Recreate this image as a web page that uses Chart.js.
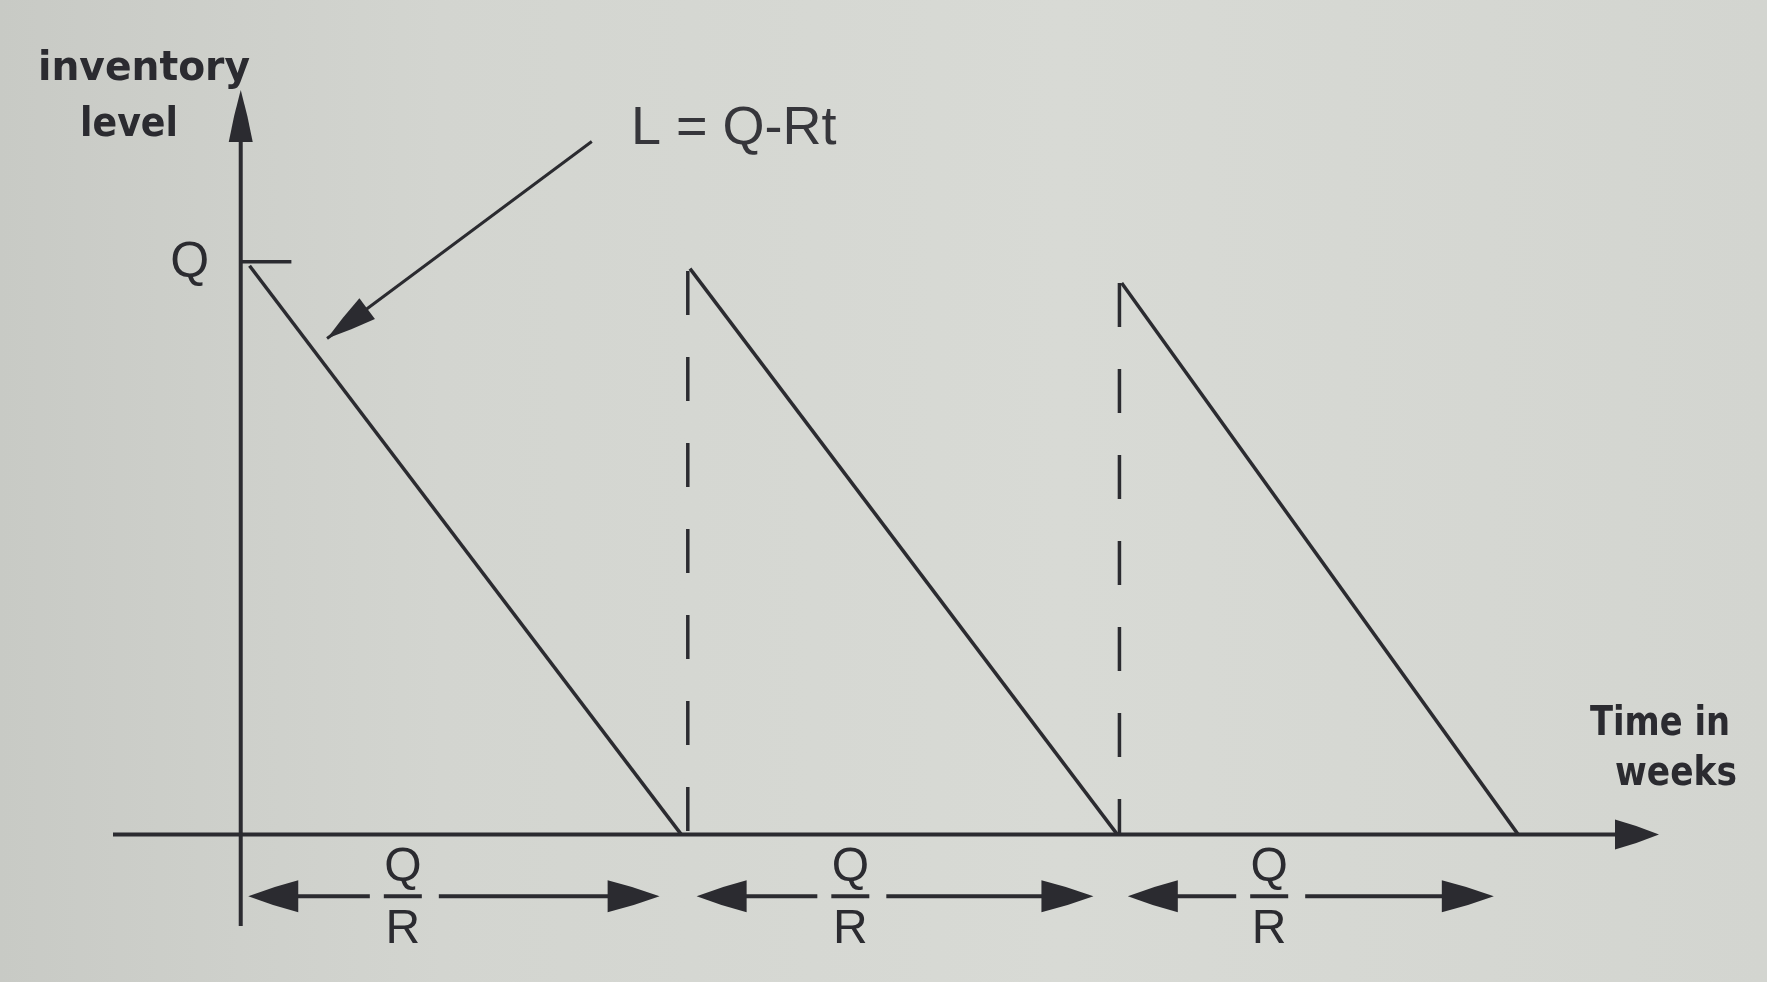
<!DOCTYPE html>
<html>
<head>
<meta charset="utf-8">
<title>Inventory level vs time</title>
<script src="https://cdn.jsdelivr.net/npm/chart.js@4.4.1/dist/chart.umd.min.js"></script>
<style>
  html, body { margin: 0; padding: 0; }
  body {
    width: 1767px; height: 982px; overflow: hidden;
    background: linear-gradient(90deg, #c8cac5 0%, #d3d5d0 25%, #d8dad5 60%, #d3d5d0 100%);
  }
  #chart { display: block; }
</style>
</head>
<body>
<canvas id="chart" width="1767" height="982"></canvas>
<script>
const ink = "#2b2b30";

// time in units of Q/R, level in units of Q
const cycleStart = [0.02, 1.02, 2.0];
const cycleEnd = [1.0, 1.99, 2.9];
const peakLevel = [0.993, 0.988, 0.963];
const reorderAt = [1.015, 1.995];
const reorderTop = [0.984, 0.963];
const spanLeft = [0.017, 1.035, 2.014];
const spanRight = [0.951, 1.936, 2.845];
const spanMid = [0.368, 1.384, 2.335];
const spanLevel = -0.108;
const xRange = [-0.29, 3.22];
const yRange = [-0.16, 1.30];
const qLevel = 1;
const qTickEnd = 0.115;
const formulaTail = [0.797, 1.21];
const formulaTip = [0.196, 0.866];

const datasets = [];

// sawtooth, one dataset per cycle
cycleStart.forEach((s, i) => {
  datasets.push({
    data: [{ x: s, y: peakLevel[i] }, { x: cycleEnd[i], y: 0 }],
    borderColor: ink, borderWidth: 3.5
  });
});

// dashed reorder lines
reorderAt.forEach((r, i) => {
  datasets.push({
    data: [{ x: r, y: reorderTop[i] }, { x: r, y: 0 }],
    borderColor: ink, borderWidth: 3.5, borderDash: [44, 42]
  });
});

// axes
datasets.push({
  data: [{ x: xRange[0], y: 0 }, { x: xRange[1] - 0.05, y: 0 }],
  borderColor: ink, borderWidth: 4
});
datasets.push({
  data: [{ x: 0, y: yRange[0] }, { x: 0, y: yRange[1] - 0.05 }],
  borderColor: ink, borderWidth: 4
});
// Q tick
datasets.push({
  data: [{ x: 0, y: qLevel }, { x: qTickEnd, y: qLevel }],
  borderColor: ink, borderWidth: 3.5
});
// annotation arrow shaft
datasets.push({
  data: [{ x: formulaTail[0], y: formulaTail[1] }, { x: formulaTip[0], y: formulaTip[1] }],
  borderColor: ink, borderWidth: 3
});

function arrowHead(ctx, tx, ty, angle, len, half) {
  ctx.save();
  ctx.translate(tx, ty);
  ctx.rotate(angle);
  ctx.beginPath();
  ctx.moveTo(0, 0);
  ctx.quadraticCurveTo(-len * 0.5, -half * 0.6, -len, -half);
  ctx.lineTo(-len, half);
  ctx.quadraticCurveTo(-len * 0.5, half * 0.6, 0, 0);
  ctx.closePath();
  ctx.fill();
  ctx.restore();
}

const decorations = {
  id: "decorations",
  afterDatasetsDraw(chart) {
    const ctx = chart.ctx;
    const xs = chart.scales.x, ys = chart.scales.y;
    const px = v => xs.getPixelForValue(v);
    const py = v => ys.getPixelForValue(v);
    ctx.save();
    ctx.fillStyle = ink;
    ctx.strokeStyle = ink;

    // axis arrowheads
    arrowHead(ctx, px(xRange[1]), py(0), 0, 44, 15);
    arrowHead(ctx, px(0), py(yRange[1]), -Math.PI / 2, 52, 12);

    // annotation arrowhead
    const ax = px(formulaTip[0]), ay = py(formulaTip[1]);
    const ang = Math.atan2(ay - py(formulaTail[1]), ax - px(formulaTail[0]));
    arrowHead(ctx, ax, ay, ang, 50, 13);

    // Q/R spans
    ctx.lineWidth = 4;
    ctx.textAlign = "center";
    ctx.textBaseline = "middle";
    ctx.font = '48px "Liberation Sans", Arial, sans-serif';
    spanMid.forEach((m, i) => {
      const cx = px(m), cy = py(spanLevel);
      const lx = px(spanLeft[i]), rx = px(spanRight[i]);
      ctx.beginPath();
      ctx.moveTo(lx + 20, cy); ctx.lineTo(cx - 33, cy);
      ctx.moveTo(cx + 36, cy); ctx.lineTo(rx - 20, cy);
      ctx.moveTo(cx - 19, cy); ctx.lineTo(cx + 19, cy);
      ctx.stroke();
      arrowHead(ctx, lx, cy, Math.PI, 50, 16);
      arrowHead(ctx, rx, cy, 0, 52, 16);
      ctx.fillText("Q", cx, cy - 28);
      ctx.fillText("R", cx, cy + 34);
    });

    // Q label on the level axis
    ctx.font = '50px "Liberation Sans", Arial, sans-serif';
    ctx.fillText("Q", px(0) - 51, py(qLevel) + 1);

    // formula
    ctx.textAlign = "left";
    ctx.textBaseline = "alphabetic";
    ctx.fillStyle = "#36363b";
    ctx.font = '54px "Liberation Sans", Arial, sans-serif';
    ctx.fillText("L = Q-Rt", px(0.886), py(1.205), 214);

    // axis titles
    ctx.fillStyle = ink;
    ctx.font = 'bold 40px "DejaVu Sans", sans-serif';
    ctx.fillText("inventory", 38, 80, 212);
    ctx.fillText("level", 80, 136, 98);
    ctx.fillText("Time in", 1590, 735, 140);
    ctx.fillText("weeks", 1615, 785, 122);
    ctx.restore();
  }
};

new Chart(document.getElementById("chart"), {
  type: "scatter",
  data: { datasets: datasets.map(d => Object.assign({ showLine: true, pointRadius: 0, clip: false, fill: false }, d)) },
  options: {
    responsive: false,
    animation: false,
    devicePixelRatio: 1,
    layout: { padding: { left: 113, right: 108, top: 90, bottom: 56 } },
    plugins: { legend: { display: false }, tooltip: { enabled: false } },
    scales: {
      x: { type: "linear", display: false, min: xRange[0], max: xRange[1] },
      y: { type: "linear", display: false, min: yRange[0], max: yRange[1] }
    }
  },
  plugins: [decorations]
});
</script>
</body>
</html>
